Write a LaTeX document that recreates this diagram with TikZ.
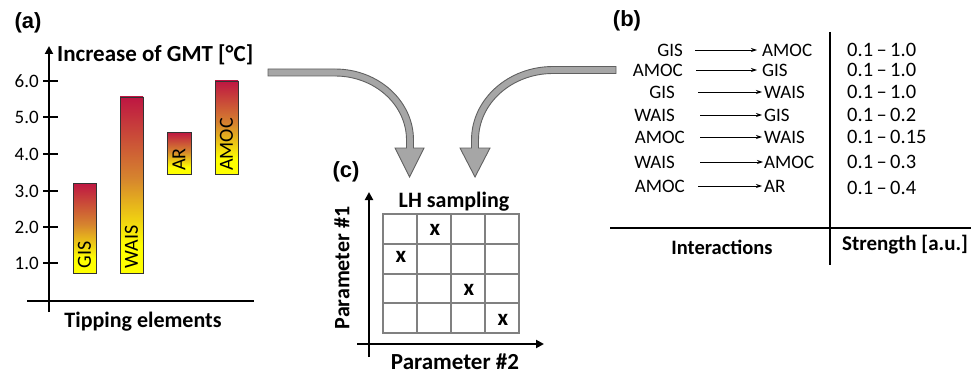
\documentclass[tikz,border=0pt]{standalone}
\usepackage{fontspec}
\setmainfont{Carlito}
\newfontfamily\labfont{Liberation Sans}
\usetikzlibrary{arrows.meta}
\definecolor{barred}{RGB}{190,22,66}
\definecolor{barorange}{RGB}{214,132,46}
\definecolor{baryellow}{RGB}{255,255,0}
\definecolor{arrfill}{RGB}{166,166,166}
\definecolor{arredge}{RGB}{96,96,96}
\definecolor{gridgray}{RGB}{128,128,128}
\pgfdeclareverticalshading{barshade}{100bp}{color(0bp)=(baryellow); color(25bp)=(baryellow); color(33bp)=(baryellow); color(52bp)=(barorange); color(75bp)=(barred); color(100bp)=(barred)}
\tikzset{
  axis/.style={line width=2.6pt, draw=black},
  axisarrow/.style={axis, -{Triangle[length=8pt,width=8pt]}},
  tick/.style={line width=2.6pt},
  numlab/.style={anchor=east, inner sep=0pt, font=\fontsize{19}{19}\selectfont},
  boldlab/.style={inner sep=0pt, font=\fontsize{21}{21}\selectfont\bfseries},
  panellab/.style={inner sep=0pt, font=\fontsize{22}{22}\selectfont\labfont\bfseries},
  bar/.style={shading=barshade, draw=black!80, line width=0.8pt},
  barlab/.style={rotate=90, anchor=west, inner sep=0pt, font=\fontsize{20}{20}\selectfont},
  itext/.style={inner sep=0pt, font=\fontsize{19}{19}\selectfont},
  vtext/.style={inner sep=0pt, font=\fontsize{20.5}{20.5}\selectfont},
  iarrow/.style={line width=0.8pt, -{Stealth[length=6pt,width=4pt]}},
  bigarrow/.style={fill=arrfill, draw=arredge, line width=0.9pt, line join=miter},
  gridline/.style={draw=gridgray, line width=2pt},
  xmark/.style={inner sep=0pt, font=\fontsize{23}{23}\selectfont\bfseries}
}
\begin{document}
\begin{tikzpicture}[x=1pt,y=-1pt]
\useasboundingbox (0,0) rectangle (971,377);
% ---------- panel (a)
\node[panellab] (la) at (28,23) {(a)};
\coordinate (ya0) at (49,312);
\coordinate (ya1) at (49,46);
\draw[axisarrow] (ya0) -- (ya1);
\coordinate (xa0) at (27,301);
\coordinate (xa1) at (254,301);
\draw[axis] (xa0) -- (xa1);
\node[boldlab, anchor=west, font=\fontsize{23}{23}\selectfont\bfseries] (ylab) at (57,55) {Increase of GMT [°C]};
\node[boldlab, font=\fontsize{22}{22}\selectfont\bfseries] (xlab) at (143,322) {Tipping elements};
\foreach \v/\y in {6.0/81,5.0/117,4.0/154,3.0/191,2.0/227,1.0/263}{
  \draw[tick] (43,\y) -- (58,\y);
  \node[numlab] at (39,\y) {\v};
}
\shade[bar] (73,183) rectangle (96,273);
\shade[bar] (120,97) rectangle (143,273);
\shade[bar] (167,132) rectangle (191,174);
\shade[bar] (215,81) rectangle (238,174);
\node[barlab] (gis) at (84.5,268.5) {GIS};
\node[barlab] (wais) at (131.5,268.5) {WAIS};
\node[barlab] (ar) at (179,171) {AR};
\node[barlab] (amoc) at (226.5,171) {AMOC};
% ---------- big arrows
\path[bigarrow] (268,69) -- (335,69) .. controls (378.4,69) and (413.5,100.8) .. (413.5,140)
  -- (413.5,148) -- (424,148) -- (409.5,177) -- (395,148) -- (406.5,148) -- (406.5,140)
  .. controls (406.5,104.7) and (374.5,76) .. (335,76) -- (268,76) -- cycle;
\path[bigarrow] (616,66.5) -- (553,66.5) .. controls (508,66.5) and (471.5,99.4) .. (471.5,140)
  -- (471.5,148) -- (460,148) -- (475,177) -- (490,148) -- (478.5,148) -- (478.5,140)
  .. controls (478.5,103.3) and (511.9,73.5) .. (553,73.5) -- (616,73.5) -- cycle;
% ---------- panel (c)
\node[panellab] (lc) at (346,172) {(c)};
\node[boldlab, font=\fontsize{22}{22}\selectfont\bfseries] (lh) at (454,202) {LH sampling};
\foreach \x in {383,417,451,485,519}{\draw[gridline] (\x,214) -- (\x,333);}
\foreach \y in {214,243.75,273.5,303.25,333}{\draw[gridline] (382,\y) -- (520,\y);}
\node[xmark] (x1) at (435,230) {x};
\node[xmark] (x2) at (401,257) {x};
\node[xmark] (x3) at (469,290) {x};
\node[xmark] (x4) at (503,320) {x};
\coordinate (yc0) at (369,357);
\coordinate (yc1) at (369,192);
\draw[axisarrow] (yc0) -- (yc1);
\coordinate (xc0) at (357,344);
\coordinate (xc1) at (544,344);
\draw[axisarrow] (xc0) -- (xc1);
\node[boldlab, rotate=90, font=\fontsize{22}{22}\selectfont\bfseries] (p1) at (342,268) {Parameter \#1};
\node[boldlab, font=\fontsize{23}{23}\selectfont\bfseries] (p2) at (455,362) {Parameter \#2};
% ---------- panel (b)
\node[panellab] (lb) at (627,21) {(b)};
\coordinate (vb0) at (830,32);
\coordinate (vb1) at (830,265);
\draw[axis] (vb0) -- (vb1);
\coordinate (hb0) at (610,228);
\coordinate (hb1) at (971,228);
\draw[axis] (hb0) -- (hb1);
\node[boldlab, font=\fontsize{20.5}{20.5}\selectfont\bfseries] (inter) at (722,247) {Interactions};
\node[boldlab] (stren) at (905,245) {Strength [a.u.]};
\foreach \i/\src/\sx/\dst/\y/\ax/\bx/\dx/\s/\sy in {
  1/GIS/683/AMOC/50/695/757/762/{0.1\,–\,1.0}/50,
  2/AMOC/683/GIS/70/696/757/762/{0.1\,–\,1.0}/70,
  3/GIS/675/WAIS/92/698/762/764/{0.1\,–\,1.0}/92,
  4/WAIS/675/GIS/115/700/762/764/{0.1\,–\,0.2}/115,
  5/AMOC/685/WAIS/137/700/762/764/{0.1\,–\,0.15}/137,
  6/WAIS/675/AMOC/162/700/763/764/{0.1\,–\,0.3}/162,
  7/AMOC/685/AR/186/698/762/764/{0.1\,–\,0.4}/188}{
  \node[itext, anchor=east] (s\i) at (\sx,\y) {\src};
  \node[itext, anchor=west] (d\i) at (\dx,\y) {\dst};
  \coordinate (a\i) at (\ax,\y);
  \coordinate (b\i) at (\bx,\y);
  \draw[iarrow] (a\i) -- (b\i);
  \node[vtext, anchor=west] (v\i) at (847,\sy) {\s};
}
\end{tikzpicture}
\end{document}
